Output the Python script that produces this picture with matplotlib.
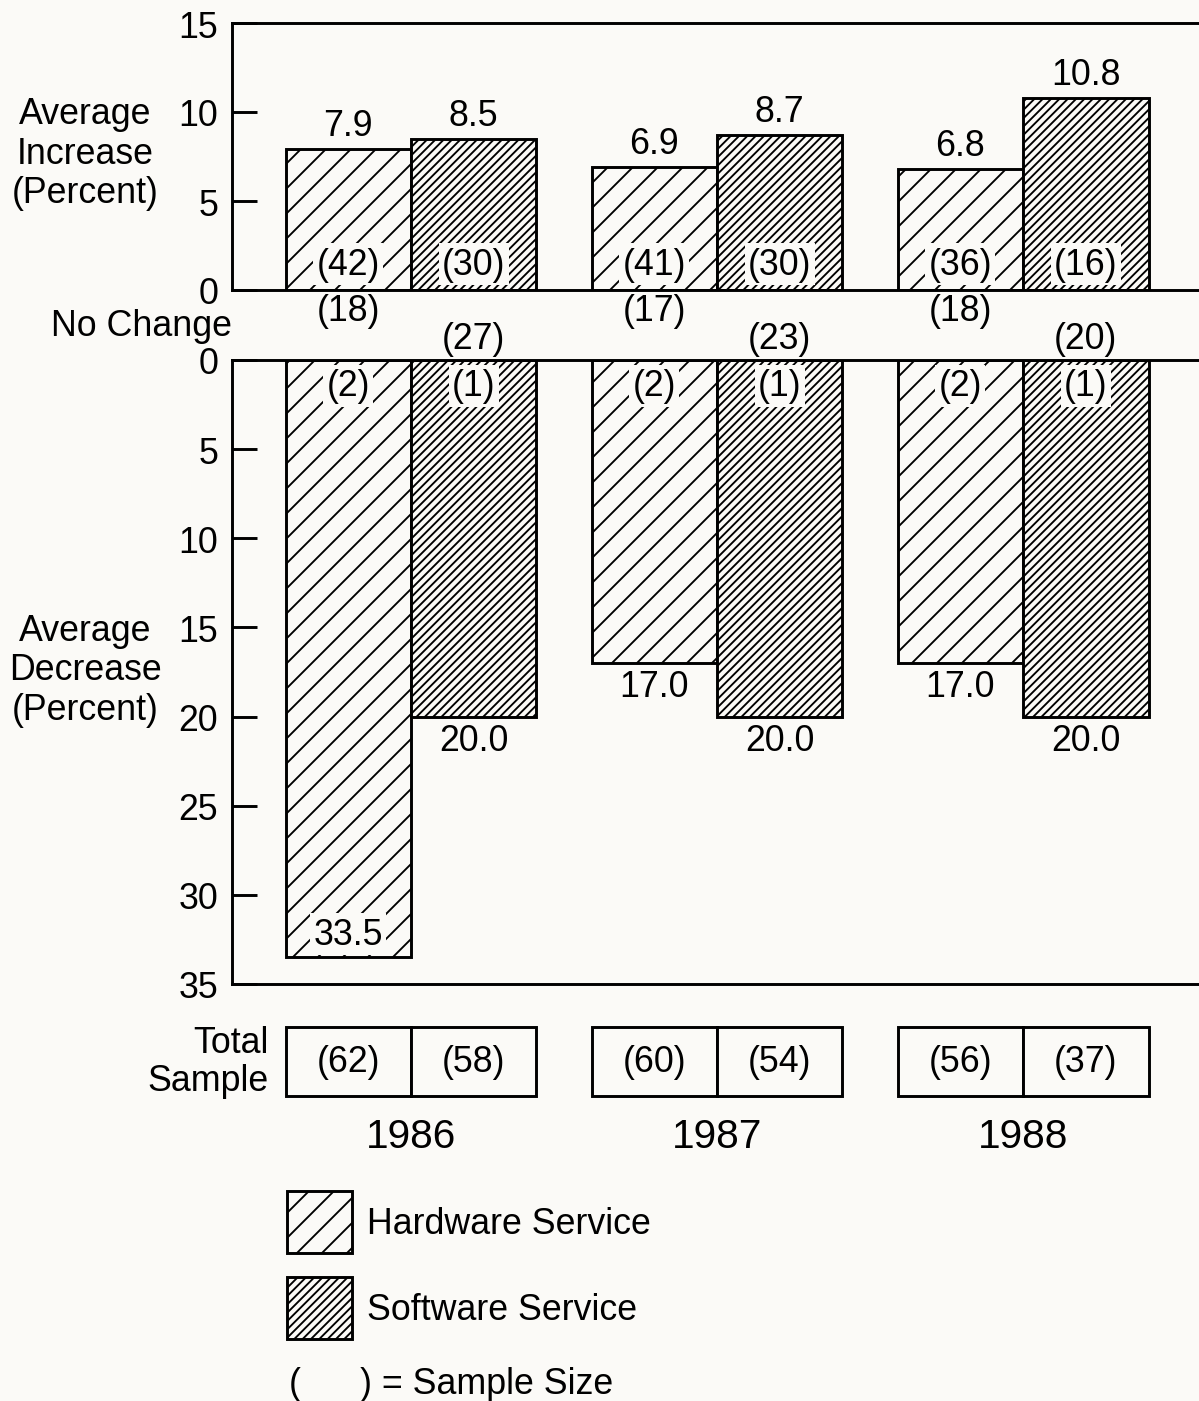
import matplotlib.pyplot as plt
from matplotlib.patches import Patch

DPI = 150
BG = "#fbfaf7"

years = ["1986", "1987", "1988"]

hw_increase = [7.9, 6.9, 6.8]
sw_increase = [8.5, 8.7, 10.8]
hw_inc_n = [42, 41, 36]
sw_inc_n = [30, 30, 16]

hw_nochange_n = [18, 17, 18]
sw_nochange_n = [27, 23, 20]

hw_decrease = [33.5, 17.0, 17.0]
sw_decrease = [20.0, 20.0, 20.0]
hw_dec_n = [2, 2, 2]
sw_dec_n = [1, 1, 1]

hw_total = [62, 60, 56]
sw_total = [58, 54, 37]

plt.rcParams["font.family"] = ["Liberation Sans", "DejaVu Sans"]
plt.rcParams["hatch.linewidth"] = 0.9
plt.rcParams["hatch.color"] = "black"

FS = 17.2
LW = 1.4
W = 0.41
HW_HATCH = "//"
SW_HATCH = "//////"

fig = plt.figure(figsize=(1199 / DPI, 1402 / DPI), dpi=DPI, facecolor=BG)

x = list(range(len(years)))
hw_x = [i - W / 2 for i in x]
sw_x = [i + W / 2 for i in x]
XLIM = (-0.585, 2.575)
left = 232 / 1199

ax_up = fig.add_axes([left, 1 - 291 / 1402, 1 - left, 267 / 1402], facecolor=BG)
ax_dn = fig.add_axes([left, 1 - 985 / 1402, 1 - left, 624 / 1402], facecolor=BG)
ax_tot = fig.add_axes([left, 1 - 1097 / 1402, 1 - left, 69 / 1402], facecolor=BG)

box = dict(facecolor=BG, edgecolor="none", pad=1.5)

for ax in (ax_up, ax_dn):
    ax.set_xlim(*XLIM)
    ax.spines["right"].set_visible(False)
    for s in ("left", "top", "bottom"):
        ax.spines[s].set_linewidth(LW)
    ax.set_xticks([])
    ax.tick_params(axis="y", direction="in", length=12, width=LW,
                   labelsize=FS, pad=6.7)

# increase panel
ax_up.set_ylim(0, 15)
ax_up.set_yticks([0, 5, 10, 15])
ax_up.bar(hw_x, hw_increase, W, color=BG, edgecolor="black", linewidth=LW,
          hatch=HW_HATCH)
ax_up.bar(sw_x, sw_increase, W, color=BG, edgecolor="black", linewidth=LW,
          hatch=SW_HATCH)
for xs, vals, ns in ((hw_x, hw_increase, hw_inc_n), (sw_x, sw_increase, sw_inc_n)):
    for xi, v, n in zip(xs, vals, ns):
        ax_up.annotate(f"{v:.1f}", (xi, v), xytext=(0, 6.7), textcoords="offset points",
                       ha="center", va="baseline", fontsize=FS)
        ax_up.text(xi, 1.45, f"({n})", ha="center", va="center", fontsize=FS, bbox=box)

# decrease panel
ax_dn.set_ylim(35, 0)
ax_dn.set_yticks(range(0, 36, 5))
ax_dn.bar(hw_x, hw_decrease, W, color=BG, edgecolor="black", linewidth=LW,
          hatch=HW_HATCH)
ax_dn.bar(sw_x, sw_decrease, W, color=BG, edgecolor="black", linewidth=LW,
          hatch=SW_HATCH)
for xs, vals, ns in ((hw_x, hw_decrease, hw_dec_n), (sw_x, sw_decrease, sw_dec_n)):
    for xi, v, n in zip(xs, vals, ns):
        if v > 30:
            ax_dn.text(xi, v - 1.3, f"{v:.1f}", ha="center", va="center",
                       fontsize=FS, bbox=box)
        else:
            ax_dn.annotate(f"{v:.1f}", (xi, v), xytext=(0, -3), textcoords="offset points",
                           ha="center", va="top", fontsize=FS)
        ax_dn.text(xi, 1.45, f"({n})", ha="center", va="center", fontsize=FS, bbox=box)

# no change counts between the panels
for xi, n in zip(hw_x, hw_nochange_n):
    ax_dn.text(xi, -2.75, f"({n})", ha="center", va="center", fontsize=FS, clip_on=False)
for xi, n in zip(sw_x, sw_nochange_n):
    ax_dn.text(xi, -1.18, f"({n})", ha="center", va="center", fontsize=FS, clip_on=False)

# total sample row
ax_tot.set_xlim(*XLIM)
ax_tot.set_ylim(0, 1)
for s in ax_tot.spines.values():
    s.set_visible(False)
ax_tot.set_yticks([])
ax_tot.bar(hw_x, [1] * 3, W, color=BG, edgecolor="black", linewidth=LW, clip_on=False)
ax_tot.bar(sw_x, [1] * 3, W, color=BG, edgecolor="black", linewidth=LW, clip_on=False)
for xi, n in zip(hw_x + sw_x, hw_total + sw_total):
    ax_tot.text(xi, 0.5, f"({n})", ha="center", va="center", fontsize=FS)
ax_tot.set_xticks(x, years)
ax_tot.tick_params(axis="x", length=0, pad=10, labelsize=19.5)
ax_tot.text(-0.465, 0.5, "Total\nSample", ha="right", va="center", ma="right",
            fontsize=FS, linespacing=1.12)

# side labels
fig.text(85 / 1199, 1 - 154 / 1402, "Average\nIncrease\n(Percent)", ha="center",
         va="center", ma="center", fontsize=FS, linespacing=1.15)
fig.text(232 / 1199, 1 - 327 / 1402, "No Change", ha="right", va="center", fontsize=FS)
fig.text(85 / 1199, 1 - 671 / 1402, "Average\nDecrease\n(Percent)", ha="center",
         va="center", ma="center", fontsize=FS, linespacing=1.15)

# legend
em = FS * DPI / 72
hh = (62 / em - 0.245) / 0.65
handles = [
    Patch(facecolor=BG, edgecolor="black", linewidth=LW, hatch=HW_HATCH, label="Hardware Service"),
    Patch(facecolor=BG, edgecolor="black", linewidth=LW, hatch=SW_HATCH, label="Software Service"),
]
fig.legend(handles=handles, loc="upper left", bbox_to_anchor=(287 / 1199, 1 - 1192 / 1402),
           frameon=False, fontsize=FS, handlelength=65 / em, handleheight=hh,
           labelspacing=24 / em, handletextpad=15 / em, borderpad=0, borderaxespad=0)
fig.text(289 / 1199, 1 - 1385 / 1402, "(      ) = Sample Size", ha="left", va="center",
         fontsize=FS)

fig.savefig("out.png", dpi=DPI, facecolor=BG)
